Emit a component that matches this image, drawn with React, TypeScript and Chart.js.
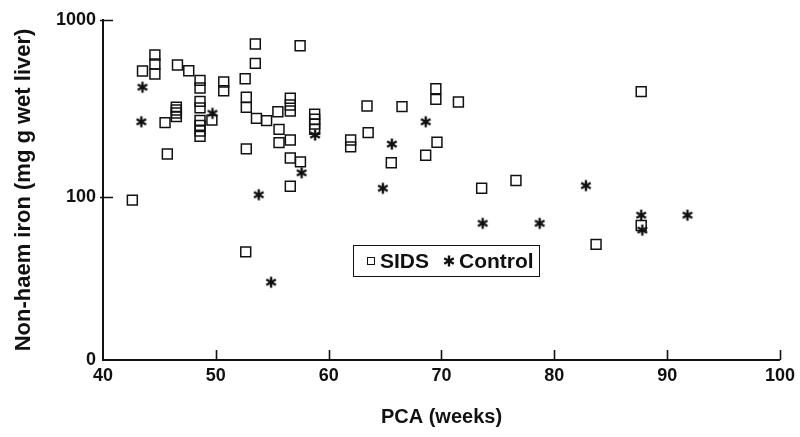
import React, { useEffect, useRef } from "react";
import { Chart, registerables } from "chart.js";

Chart.register(...registerables);

// SIDS: [PCA weeks, non-haem iron]
const sidsX = [
  42.6, 43.5, 44.6, 44.6, 44.6, 45.5, 45.7, 46.6, 46.5, 46.5, 46.5, 46.5,
  47.6, 48.6, 48.6, 48.6, 48.6, 48.6, 48.6, 48.6, 48.6, 49.65, 50.7, 50.7,
  52.6, 53.5, 53.5, 52.7, 52.7, 52.7, 52.65, 53.6, 54.5, 55.5, 55.6, 55.6,
  56.6, 56.6, 56.6, 56.6, 56.6, 56.6, 57.47, 57.5, 58.76, 58.76, 58.76, 58.76,
  61.95, 61.95, 63.4, 63.5, 65.55, 66.5, 69.5, 69.5, 71.5, 69.6, 68.6, 73.56,
  76.6, 83.7, 87.7, 87.7,
];
const sidsY = [
  96, 515, 634, 564, 495, 263, 175, 557, 322, 310, 298, 285,
  517, 456, 413, 347, 319, 271, 254, 236, 220, 272, 446, 398,
  466, 732, 569, 366, 321, 187, 49, 278, 270, 303, 241, 203,
  361, 331, 306, 210, 166, 115, 716, 158, 294, 275, 258, 241,
  210, 192, 327, 231, 156, 324, 409, 356, 344, 204, 172, 112,
  124, 54, 69, 394,
];

// Control: [PCA weeks, non-haem iron]
const controlX = [43.5, 43.4, 49.7, 53.8, 54.9, 57.6, 58.8, 64.8, 65.6, 68.6, 73.65, 78.7, 82.8, 87.7, 87.8, 91.8];
const controlY = [417, 266, 297, 103, 33, 137, 224, 112, 199, 266, 71, 71, 116, 79, 65, 79];

const xTickValues = [40, 50, 60, 70, 80, 90, 100];
const yTickValues = [12, 100, 1000];
const yTickLabels = ["0", "100", "1000"];

const seriesNames = ["SIDS", "Control"];

const FONT = "'Liberation Sans', Arial, Helvetica, sans-serif";
const INK = "#111";

function makeStar(): HTMLCanvasElement {
  const c = document.createElement("canvas");
  c.width = 14;
  c.height = 14;
  const g = c.getContext("2d")!;
  g.strokeStyle = INK;
  g.lineWidth = 2.4;
  g.lineCap = "butt";
  const cx = 7, cy = 7, r = 5.5;
  for (const deg of [90, 30, -30]) {
    const a = (deg * Math.PI) / 180;
    g.beginPath();
    g.moveTo(cx - r * Math.cos(a), cy - r * Math.sin(a));
    g.lineTo(cx + r * Math.cos(a), cy + r * Math.sin(a));
    g.stroke();
  }
  return c;
}

const tickMarks = {
  id: "tickMarks",
  afterDraw(chart: any) {
    const { ctx, chartArea, scales } = chart;
    const xs = scales.x, ys = scales.y;
    ctx.save();
    ctx.strokeStyle = INK;
    ctx.lineWidth = 1.6;
    ctx.beginPath();
    xTickValues.slice(1).forEach((v) => {
      const px = Math.round(xs.getPixelForValue(v)) + 0.5;
      ctx.moveTo(px, chartArea.bottom);
      ctx.lineTo(px, chartArea.bottom - 10);
    });
    yTickValues.slice(1).forEach((v) => {
      const py = Math.round(ys.getPixelForValue(v)) + 0.5;
      ctx.moveTo(chartArea.left - 3, py);
      ctx.lineTo(chartArea.left + 10, py);
    });
    ctx.stroke();
    ctx.restore();
  },
};

export default function App() {
  const ref = useRef<HTMLCanvasElement | null>(null);
  const starRef = useRef<HTMLCanvasElement | null>(null);

  useEffect(() => {
    if (!ref.current) return;
    const star = makeStar();
    if (starRef.current) {
      const g = starRef.current.getContext("2d")!;
      g.clearRect(0, 0, 14, 14);
      g.drawImage(star, 0, 0);
    }
    const chart = new Chart(ref.current, {
      type: "scatter",
      data: {
        datasets: [
          {
            label: seriesNames[0],
            data: sidsX.map((x, i) => ({ x, y: sidsY[i] })),
            pointStyle: "rect",
            pointRadius: 7,
            borderWidth: 1.5,
            borderColor: INK,
            backgroundColor: "rgba(0,0,0,0)",
          },
          {
            label: seriesNames[1],
            data: controlX.map((x, i) => ({ x, y: controlY[i] })),
            pointStyle: star,
            pointRadius: 6,
            borderColor: INK,
            backgroundColor: INK,
          },
        ],
      },
      options: {
        responsive: false,
        animation: false,
        events: [],
        layout: { padding: { top: 20, right: 17, left: 0, bottom: 0 } },
        plugins: { legend: { display: false }, tooltip: { enabled: false } },
        scales: {
          x: {
            type: "linear",
            min: 40,
            max: 100,
            afterBuildTicks: (s: any) => {
              s.ticks = xTickValues.map((v) => ({ value: v }));
            },
            afterFit: (s: any) => {
              s.height = 77;
            },
            grid: { display: false, drawTicks: false },
            border: { display: true, color: INK, width: 2 },
            ticks: {
              padding: 5,
              color: INK,
              font: { family: FONT, size: 18, weight: "bold" },
              maxRotation: 0,
            },
            title: {
              display: true,
              text: "PCA (weeks)",
              color: INK,
              font: { family: FONT, size: 20, weight: "bold" },
              padding: { top: 0, bottom: 8 },
            },
          },
          y: {
            type: "logarithmic",
            min: yTickValues[0],
            max: 1000,
            afterBuildTicks: (s: any) => {
              s.ticks = yTickValues.map((v) => ({ value: v }));
            },
            afterFit: (s: any) => {
              s.width = 103;
            },
            grid: { display: false, drawTicks: false },
            border: { display: true, color: INK, width: 2 },
            ticks: {
              padding: 7,
              color: INK,
              font: { family: FONT, size: 18, weight: "bold" },
              callback: (_v: any, i: number) => yTickLabels[i],
            },
            title: {
              display: true,
              text: "Non-haem iron (mg g wet liver)",
              color: INK,
              font: { family: FONT, size: 22, weight: "bold" },
              padding: { top: 11, bottom: 0 },
            },
          },
        },
      },
      plugins: [tickMarks],
    });
    return () => chart.destroy();
  }, []);

  return (
    <div style={{ position: "absolute", left: 0, top: 0, width: 800, height: 437, background: "#fff" }}>
      <canvas ref={ref} width={800} height={437} style={{ display: "block" }} />
      <div
        style={{
          position: "absolute",
          left: 353,
          top: 245,
          width: 187,
          height: 32,
          boxSizing: "border-box",
          border: `1.5px solid ${INK}`,
          display: "flex",
          alignItems: "center",
          fontFamily: FONT,
          fontWeight: "bold",
          fontSize: 21,
          color: INK,
          whiteSpace: "nowrap",
        }}
      >
        <span
          style={{
            display: "inline-block",
            width: 8,
            height: 8,
            border: `1.5px solid ${INK}`,
            marginLeft: 13,
            marginRight: 5,
            boxSizing: "border-box",
          }}
        />
        <span>{seriesNames[0]}</span>
        <canvas ref={starRef} width={14} height={14} style={{ marginLeft: 13, marginRight: 3, display: "block" }} />
        <span>{seriesNames[1]}</span>
      </div>
    </div>
  );
}
